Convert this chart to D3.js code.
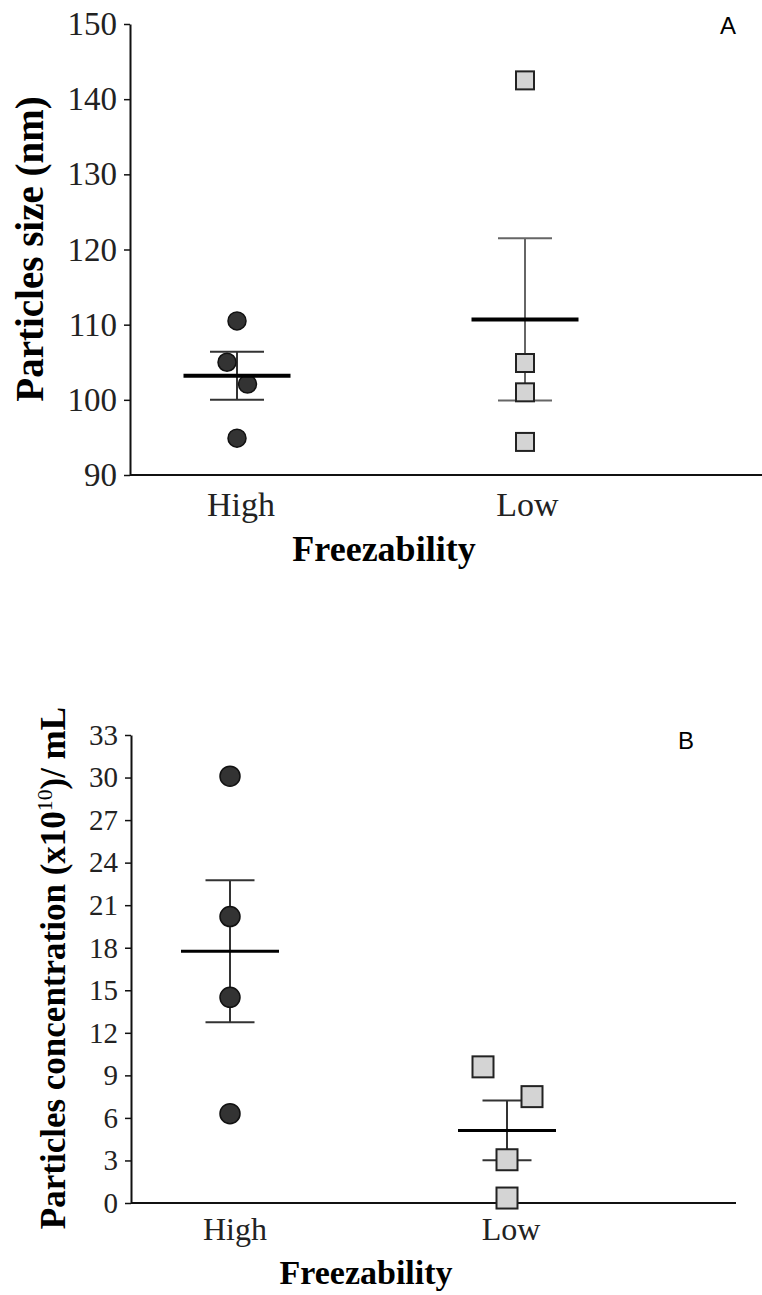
<!DOCTYPE html>
<html>
<head>
<meta charset="utf-8">
<script src="https://cdn.jsdelivr.net/npm/d3@7"></script>
<style>
	body { margin: 0; background: #fff; }
	svg { display: block; }
</style>
</head>
<body>
<div class="chart"></div>
<script>
var width = 762;
var height = 1295;

var categories = ["High", "Low"];

// panel A - particles size (nm)
var sizeHigh = [110.5, 105.0, 102.1, 94.9];
var sizeLow = [142.5, 104.9, 101.0, 94.4];
var sizeMean = [103.2, 110.7];
var sizeSem = [3.2, 10.8];
var sizeTicks = [90, 100, 110, 120, 130, 140, 150];
var sizeJitterHigh = [0, -10, 10.5, 0];
var sizeJitterLow = [0, 0, 0, 0];

// panel B - particles concentration (x10^10)/mL
var concHigh = [30.1, 20.2, 14.5, 6.3];
var concLow = [9.6, 7.5, 3.05, 0.35];
var concMean = [17.75, 5.12];
var concSem = [5.0, 2.1];
var concTicks = [0, 3, 6, 9, 12, 15, 18, 21, 24, 27, 30, 33];
var concJitterHigh = [0, 0, 0, 0];
var concJitterLow = [-24, 25, 0, 0];

var circleFill = "#333333";
var squareFill = "#d4d4d4";
var serif = "'Liberation Serif', 'Times New Roman', serif";

var svg = d3.select('.chart').append('svg')
	.attr('width', width)
	.attr('height', height);

function drawPanel(cfg) {
	var g = svg.append('g');

	var y = d3.scaleLinear().domain(cfg.yDomain).range(cfg.yRange);
	var x = d3.scalePoint().domain(categories).range(cfg.xRange);

	// y axis
	var yAxis = g.append('g')
		.attr('transform', 'translate(' + cfg.axisX + ',0)')
		.call(d3.axisLeft(y).tickValues(cfg.ticks).tickSize(6).tickPadding(7).tickSizeOuter(0));
	yAxis.select('.domain').attr('stroke', '#111').attr('stroke-width', 2);
	yAxis.selectAll('.tick line').attr('stroke', '#111').attr('stroke-width', 1.5);
	yAxis.selectAll('.tick text')
		.attr('font-family', serif)
		.attr('font-size', cfg.tickFont)
		.attr('fill', '#222');

	// x axis line
	g.append('line')
		.attr('x1', cfg.axisX).attr('x2', cfg.axisEnd)
		.attr('y1', y(cfg.yDomain[0])).attr('y2', y(cfg.yDomain[0]))
		.attr('stroke', '#111').attr('stroke-width', 2);

	// category labels
	var xAxis = g.append('g')
		.attr('transform', 'translate(0,' + y(cfg.yDomain[0]) + ')')
		.call(d3.axisBottom(x).tickSize(0).tickPadding(cfg.catPad));
	xAxis.select('.domain').remove();
	xAxis.selectAll('.tick text')
		.attr('dx', function(d, i) { return cfg.catShift[i]; })
		.attr('font-family', serif)
		.attr('font-size', cfg.catFont)
		.attr('fill', '#222');

	// axis titles
	g.append('text')
		.attr('x', cfg.xTitle[0]).attr('y', cfg.xTitle[1])
		.attr('text-anchor', 'middle')
		.attr('font-family', serif).attr('font-weight', 'bold')
		.attr('font-size', cfg.titleFont)
		.text('Freezability');

	var yt = g.append('text')
		.attr('transform', 'translate(' + cfg.yTitle[0] + ',' + cfg.yTitle[1] + ') rotate(-90)')
		.attr('text-anchor', 'middle')
		.attr('font-family', serif).attr('font-weight', 'bold')
		.attr('font-size', cfg.yTitleFont);
	cfg.yTitleParts.forEach(function(p) {
		var ts = yt.append('tspan').text(p.t);
		if (p.sup) ts.attr('font-size', cfg.yTitleFont * 0.62).attr('font-weight', 'normal').attr('dy', -cfg.yTitleFont * 0.38);
		if (p.down) ts.attr('dy', cfg.yTitleFont * 0.38);
	});

	// panel letter
	g.append('text')
		.attr('x', cfg.letterPos[0]).attr('y', cfg.letterPos[1])
		.attr('text-anchor', 'middle')
		.attr('font-family', "'Liberation Sans', Arial, sans-serif")
		.attr('font-size', 24)
		.text(cfg.letter);

	// error bars (mean +/- SEM)
	categories.forEach(function(c, i) {
		var cx = x(c);
		var top = y(cfg.mean[i] + cfg.sem[i]);
		var bot = y(cfg.mean[i] - cfg.sem[i]);
		var col = cfg.errColor[i];
		g.append('line').attr('x1', cx).attr('x2', cx).attr('y1', top).attr('y2', bot)
			.attr('stroke', col).attr('stroke-width', 2);
		[top, bot].forEach(function(yy) {
			g.append('line').attr('x1', cx - cfg.capW / 2).attr('x2', cx + cfg.capW / 2)
				.attr('y1', yy).attr('y2', yy)
				.attr('stroke', col).attr('stroke-width', 2);
		});
	});

	// points
	g.selectAll('circle.pt').data(cfg.high).enter().append('circle')
		.attr('class', 'pt')
		.attr('cx', function(d, i) { return x('High') + cfg.jitterHigh[i]; })
		.attr('cy', function(d) { return y(d); })
		.attr('r', cfg.r)
		.attr('fill', circleFill)
		.attr('stroke', '#111').attr('stroke-width', 1.5);

	g.selectAll('rect.pt').data(cfg.low).enter().append('rect')
		.attr('class', 'pt')
		.attr('x', function(d, i) { return x('Low') + cfg.jitterLow[i] - cfg.sq / 2; })
		.attr('y', function(d) { return y(d) - cfg.sq / 2; })
		.attr('width', cfg.sq).attr('height', cfg.sq)
		.attr('fill', squareFill)
		.attr('stroke', '#222').attr('stroke-width', 2);

	// mean lines
	g.selectAll('line.mean').data(cfg.mean).enter().append('line')
		.attr('class', 'mean')
		.attr('x1', function(d, i) { return x(categories[i]) - cfg.meanW / 2; })
		.attr('x2', function(d, i) { return x(categories[i]) + cfg.meanW / 2; })
		.attr('y1', function(d) { return y(d); })
		.attr('y2', function(d) { return y(d); })
		.attr('stroke', '#000').attr('stroke-width', cfg.meanStroke);
}

drawPanel({
	yDomain: [90, 150], yRange: [475, 24],
	xRange: [237, 525],
	axisX: 130, axisEnd: 762,
	ticks: sizeTicks, tickFont: 33,
	catFont: 34, catPad: 17, catShift: [3.5, 2],
	titleFont: 36, xTitle: [384, 561],
	yTitleFont: 39, yTitle: [43, 249],
	yTitleParts: [{ t: 'Particles size (nm)' }],
	letter: 'A', letterPos: [728, 34],
	high: sizeHigh, low: sizeLow, mean: sizeMean, sem: sizeSem,
	jitterHigh: sizeJitterHigh, jitterLow: sizeJitterLow,
	errColor: ['#333', '#666'],
	r: 9, sq: 18, capW: 54, meanW: 107, meanStroke: 4
});

drawPanel({
	yDomain: [0, 33], yRange: [1203, 735],
	xRange: [230, 507],
	axisX: 131, axisEnd: 736,
	ticks: concTicks, tickFont: 29,
	catFont: 32, catPad: 14, catShift: [4.5, 3.5],
	titleFont: 34, xTitle: [366, 1284],
	yTitleFont: 35, yTitle: [65, 968],
	yTitleParts: [{ t: 'Particles concentration (x10' }, { t: '10', sup: true }, { t: ')/ mL', down: true }],
	letter: 'B', letterPos: [686, 749],
	high: concHigh, low: concLow, mean: concMean, sem: concSem,
	jitterHigh: concJitterHigh, jitterLow: concJitterLow,
	errColor: ['#333', '#333'],
	r: 10, sq: 21, capW: 49, meanW: 98, meanStroke: 3
});
</script>
</body>
</html>
